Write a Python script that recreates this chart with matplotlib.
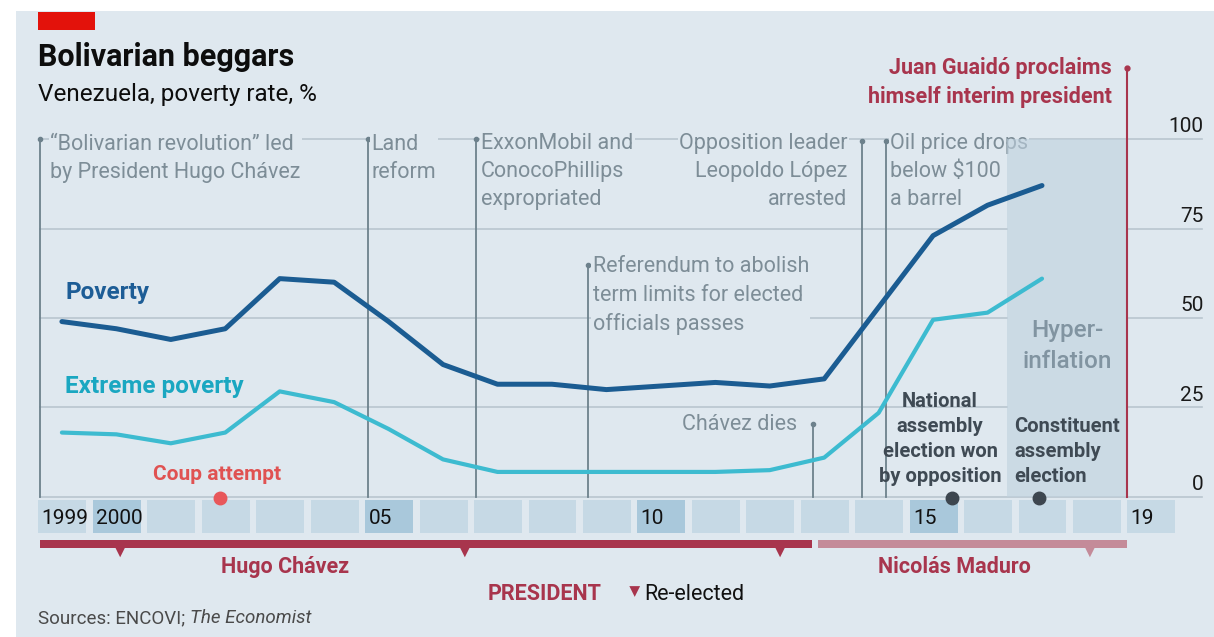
import matplotlib.pyplot as plt
from matplotlib.patches import Rectangle
import numpy as np

plt.rcParams['font.family'] = ['Roboto', 'DejaVu Sans']

# --- data ---
years = list(range(1999, 2018))
poverty = [49, 47, 44, 47, 61, 60, 49, 37, 31.5, 31.5, 30, 31, 32, 31, 33, 53, 73, 81.5, 87]
extreme = [18, 17.5, 15, 18, 29.5, 26.5, 19, 10.5, 7, 7, 7, 7, 7, 7.5, 11, 23.5, 49.5, 51.5, 61]

yticks = [0, 25, 50, 75, 100]
year_labels = {1999: '1999', 2000: '2000', 2005: '05', 2010: '10', 2015: '15', 2019: '19'}
dark_cells = [2000, 2005, 2010, 2015]

# events: (date, line top, text, side, text x, text y)
events = [
    (1999.03, 100, '\u201cBolivarian revolution\u201d led\nby President Hugo Ch\u00e1vez', 'left', 1999.21, 94.6),
    (2005.05, 100, 'Land\nreform', 'left', 2005.12, 94.6),
    (2007.03, 100, 'ExxonMobil and\nConocoPhillips\nexpropriated', 'left', 2007.13, 91.0),
    (2009.09, 64.8, 'Referendum to abolish\nterm limits for elected\nofficials passes', 'left', 2009.18, 56.2),
    (2013.22, 20.4, 'Ch\u00e1vez dies', 'right', 2012.93, 20.2),
    (2014.12, 99.5, 'Opposition leader\nLeopoldo L\u00f3pez\narrested', 'right', 2013.86, 91.0),
    (2014.57, 99.5, 'Oil price drops\nbelow $100\na barrel', 'left', 2014.64, 91.0),
]
guaido = 2018.99
hyper_start, hyper_end = 2016.79, 2018.99
coup = 2002.33
elections = [2015.78, 2017.37]
chavez_term = (1999.03, 2013.2)
maduro_term = (2013.32, 2019.0)
reelected = [2000.5, 2006.83, 2012.62, 2018.31]

BG = '#dfe8ef'
GRID = '#b9c6cf'
EVENT = '#6d818c'
ANNOT = '#7d8d97'
CRIMSON = '#a8354d'
PINK = '#c48b99'
POV = '#1b5c92'
EXT = '#3dbbd0'

fig = plt.figure(figsize=(12.14, 6.37), dpi=100, facecolor='white')
fig.patches.append(Rectangle((16 / 1214, 0), 1, 1 - 11 / 637, transform=fig.transFigure,
                             facecolor=BG, edgecolor='none', zorder=-10))
fig.patches.append(Rectangle((38 / 1214, 1 - 30 / 637), 57 / 1214, 18 / 637, transform=fig.transFigure,
                             facecolor='#e3120b', edgecolor='none'))

ax = fig.add_axes([0, 0, 1, 1])
ax.set_xlim(1998.293, 2020.589)
ax.set_ylim(-39.11, 138.83)
ax.axis('off')
ax.patch.set_alpha(0)

# hyperinflation shade (translucent so it also tints over the text box next to it)
ax.add_patch(Rectangle((hyper_start, 0), hyper_end - hyper_start, 100, facecolor='#bfd1de',
                       alpha=0.6, edgecolor='none', zorder=3.5))
ax.text((hyper_start + hyper_end) / 2, 42.2, 'Hyper-\ninflation', ha='center', va='center',
        fontsize=17.5, color='#8194a1', fontweight='medium', linespacing=1.4, zorder=4)

# gridlines and y labels (inner gridlines skip the shaded band)
for t in yticks:
    if t in (0, 100):
        ax.plot([1999.03, 2020.36], [t, t], color=GRID, lw=1.2, zorder=1)
    else:
        ax.plot([1999.03, hyper_start], [t, t], color=GRID, lw=1.2, zorder=1)
        ax.plot([hyper_end, 2020.36], [t, t], color=GRID, lw=1.2, zorder=1)
    ax.text(2020.40, t + 3.4, str(t), ha='right', va='center', fontsize=15, color='#1a1a1a')

# event lines + annotations
for x, top, label, side, tx, ty in events:
    ax.plot([x, x], [0, top], color=EVENT, lw=1.3, zorder=2)
    ax.plot(x, top, 'o', color=EVENT, ms=3, zorder=2)
    ax.text(tx, ty, label, ha=side, va='center', fontsize=15.5, color=ANNOT, linespacing=1.45,
            zorder=3, bbox=dict(facecolor=BG, edgecolor='none', pad=1))

ax.plot([guaido, guaido], [0, 119.8], color=CRIMSON, lw=1.5, zorder=4)
ax.plot(guaido, 119.8, 'o', color=CRIMSON, ms=3.5, zorder=4)
ax.text(2018.72, 115.7, 'Juan Guaid\u00f3 proclaims\nhimself interim president', ha='right', va='center',
        fontsize=15.5, color=CRIMSON, fontweight='bold', linespacing=1.4)

# data lines
xs = np.array(years) + 0.43
ax.plot(xs, poverty, color=POV, lw=3.6, solid_capstyle='round', solid_joinstyle='round', zorder=5)
ax.plot(xs, extreme, color=EXT, lw=3.0, solid_capstyle='round', solid_joinstyle='round', zorder=5)
ax.text(1999.49, 57, 'Poverty', fontsize=17.5, fontweight='bold', color='#1d5d96', va='center')
ax.text(1999.49, 31, 'Extreme poverty', fontsize=17.5, fontweight='bold', color='#1aa7c1', va='center')

# year cells
for yr in range(1999, 2020):
    fc = '#a9c8db' if yr in dark_cells else '#c6d9e5'
    ax.add_patch(Rectangle((yr, -10.0), 0.88, 9.2, facecolor=fc, edgecolor='none', zorder=4))
    if yr in year_labels:
        ax.text(yr + 0.06, -5.9, year_labels[yr], fontsize=15, color='#111111', va='center', zorder=6)

# point events on the year row
ax.plot(coup, -0.3, 'o', color='#e8575a', ms=9, zorder=7)
ax.text(2002.28, 6.4, 'Coup attempt', ha='center', va='center', fontsize=15, fontweight='bold',
        color='#e05252')
ax.plot(elections, [-0.3] * len(elections), 'o', color='#3d464f', ms=9, zorder=7)
ax.text(2015.56, 16.3, 'National\nassembly\nelection won\nby opposition', ha='center', va='center',
        fontsize=14.5, fontweight='bold', color='#3f4a54', linespacing=1.4, zorder=6)
ax.text(2016.92, 12.8, 'Constituent\nassembly\nelection', ha='left', va='center',
        fontsize=14.5, fontweight='bold', color='#3f4a54', linespacing=1.4, zorder=6)

# presidents
ax.add_patch(Rectangle((chavez_term[0], -14.3), chavez_term[1] - chavez_term[0], 2.3,
                       facecolor=CRIMSON, edgecolor='none'))
ax.add_patch(Rectangle((maduro_term[0], -14.3), maduro_term[1] - maduro_term[0], 2.3,
                       facecolor=PINK, edgecolor='none'))
tri_colors = [CRIMSON if r < maduro_term[0] else PINK for r in reelected]
ax.scatter(reelected, [-15.0] * len(reelected), marker='v', s=90, c=tri_colors, edgecolors='none')
ax.text(2003.53, -19.6, 'Hugo Ch\u00e1vez', ha='center', va='center', fontsize=15.5, fontweight='bold',
        color=CRIMSON)
ax.text(2015.83, -19.6, 'Nicol\u00e1s Maduro', ha='center', va='center', fontsize=15.5, fontweight='bold',
        color=CRIMSON)
ax.text(2007.24, -27.2, 'PRESIDENT', ha='left', va='center', fontsize=15.5, fontweight='bold',
        color=CRIMSON)
ax.scatter([2009.95], [-26.4], marker='v', s=60, c=CRIMSON, edgecolors='none')
ax.text(2010.12, -27.2, 'Re-elected', ha='left', va='center', fontsize=15.5, color='#111111')

# titles and source
fig.text(38 / 1214, 1 - 57 / 637, 'Bolivarian beggars', fontsize=22, fontweight='bold',
         color='#0d0d0d', va='center')
fig.text(38 / 1214, 1 - 95 / 637, 'Venezuela, poverty rate, %', fontsize=17.5, color='#0d0d0d', va='center')
src = fig.text(38 / 1214, 1 - 618 / 637, 'Sources: ENCOVI; ', fontsize=13.5, color='#4a4a4a', va='center')
fig.canvas.draw()
bb = src.get_window_extent()
fig.text(bb.x1 / 1214, 1 - 618 / 637, 'The Economist', fontsize=13.5, color='#4a4a4a', va='center',
         style='italic')

fig.savefig('out.png', dpi=100, facecolor='white')
